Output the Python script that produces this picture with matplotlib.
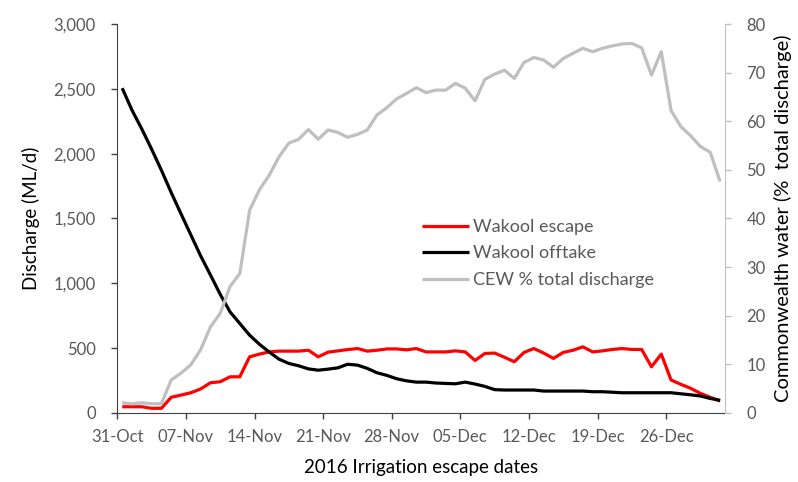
import matplotlib
matplotlib.use("Agg")
import matplotlib.pyplot as plt
import matplotlib.dates as mdates
from matplotlib.ticker import FuncFormatter
import numpy as np
import pandas as pd

plt.rcParams['font.family'] = ['Lato', 'DejaVu Sans']

# daily values, 31-Oct-2016 .. 31-Dec-2016
start_date = '2016-10-31'
escape = [48, 48, 48, 36, 36, 121, 138, 156, 185, 233,
          241, 279, 279, 433, 454, 471, 477, 477, 477, 484,
          433, 469, 479, 489, 497, 477, 484, 494, 494, 487,
          497, 471, 471, 471, 479, 471, 405, 459, 462, 430,
          395, 467, 497, 462, 421, 467, 484, 510, 471, 479,
          490, 497, 490, 490, 356, 454, 254, 221, 190, 151,
          121, 92]
offtake = [2505, 2335, 2190, 2035, 1872, 1700, 1536, 1374, 1212, 1065,
           915, 780, 690, 600, 530, 470, 415, 382, 364, 340,
           330, 338, 348, 376, 369, 344, 310, 290, 264, 248,
           238, 238, 231, 228, 225, 238, 223, 205, 180, 177,
           177, 177, 177, 169, 169, 169, 169, 169, 164, 164,
           160, 156, 156, 156, 156, 156, 156, 148, 140, 131,
           112, 98]
cew_pct = [2.1, 1.9, 2.1, 1.9, 1.9, 6.8, 8.2, 9.9, 13.0, 17.7,
           20.5, 26.0, 28.7, 41.7, 45.9, 48.9, 52.7, 55.5, 56.3, 58.3,
           56.3, 58.2, 57.7, 56.7, 57.3, 58.2, 61.3, 62.8, 64.6, 65.7,
           66.9, 65.9, 66.4, 66.4, 67.8, 66.8, 64.2, 68.6, 69.7, 70.5,
           68.8, 72.1, 73.1, 72.6, 71.1, 72.9, 74.0, 75.0, 74.3, 75.0,
           75.5, 75.9, 76.0, 75.1, 69.5, 74.3, 62.2, 58.9, 57.0, 54.8,
           53.6, 47.6]
labels = ['Wakool escape', 'Wakool offtake', 'CEW % total discharge']

# points sit in the middle of each day slot
dates = pd.date_range(start_date, periods=len(escape), freq='D') + pd.Timedelta(hours=12)
tick_dates = pd.date_range(start_date, periods=9, freq='7D')

tick_col = '#595959'
grey = '#bfbfbf'

fig = plt.figure(figsize=(7.98, 4.82), dpi=100)
ax = fig.add_axes([0.147, 0.1432, 0.7615, 0.807])
ax2 = ax.twinx()

l1, = ax.plot(dates, escape, color='#ff0000', lw=2.3, solid_capstyle='butt')
l2, = ax.plot(dates, offtake, color='black', lw=2.3, solid_capstyle='butt')
l3, = ax2.plot(dates, cew_pct, color=grey, lw=2.3, solid_capstyle='butt')

ax.set_xlim(pd.Timestamp('2016-10-31'), pd.Timestamp('2017-01-01'))
ax.set_ylim(0, 3000)
ax2.set_ylim(0, 80)
ax.set_yticks(np.arange(0, 3001, 500))
ax2.set_yticks(np.arange(0, 81, 10))
ax.yaxis.set_major_formatter(FuncFormatter(lambda v, p: '{:,.0f}'.format(v)))
ax.set_xticks(tick_dates)
ax.xaxis.set_major_formatter(mdates.DateFormatter('%d-%b'))

for a in (ax, ax2):
    a.spines['top'].set_visible(False)
ax.spines['right'].set_visible(False)
ax2.spines['left'].set_visible(False)
ax2.spines['bottom'].set_visible(False)
ax.spines['left'].set_color('#404040')
ax.spines['bottom'].set_color('#404040')
ax2.spines['right'].set_color(grey)

ax.tick_params(axis='both', colors='#404040', labelcolor=tick_col, labelsize=12,
               length=4.5, width=1, direction='out')
ax.tick_params(axis='x', pad=7)
ax.tick_params(axis='y', pad=11)
ax2.tick_params(axis='y', colors=grey, labelcolor=tick_col, labelsize=12,
                length=4.5, width=1, direction='out', pad=11)

ax.set_ylabel('Discharge (ML/d)', fontsize=13.5, color='black', labelpad=10)
ax2.set_ylabel('Commonwealth water (%  total discharge)', fontsize=14.5,
               color='black', labelpad=6)
ax.set_xlabel('2016 Irrigation escape dates', fontsize=13.5, color='black', labelpad=10)

leg = ax2.legend([l1, l2, l3], labels, loc='upper left', frameon=False,
                 bbox_to_anchor=(422 / 798, 1 - 219 / 482), bbox_transform=fig.transFigure,
                 fontsize=13, handlelength=2.6, handletextpad=0.2,
                 labelspacing=0.58, borderpad=0, borderaxespad=0)
for t in leg.get_texts():
    t.set_color(tick_col)

fig.savefig('out.png', dpi=100)
